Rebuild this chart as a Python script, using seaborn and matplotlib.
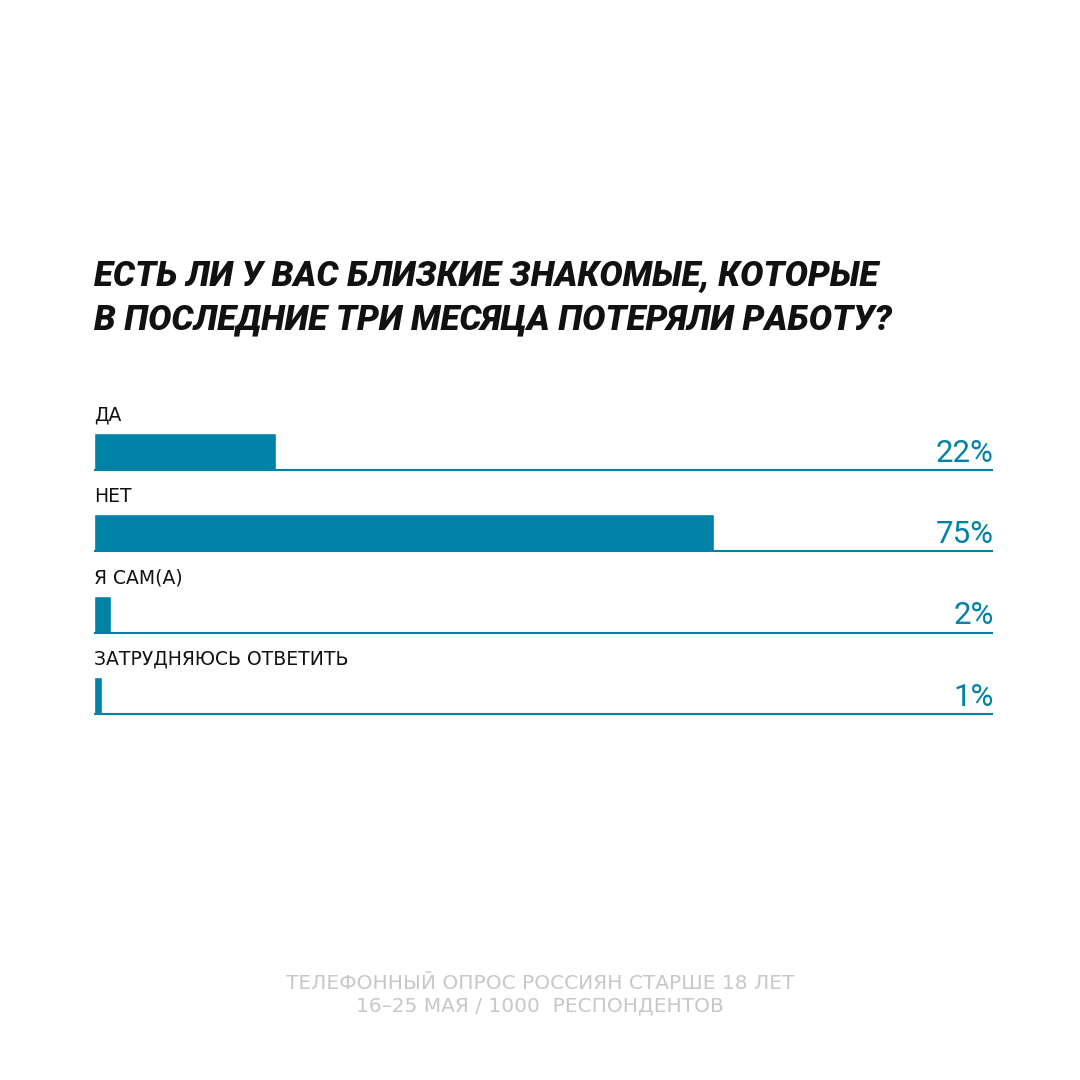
import matplotlib.pyplot as plt
import seaborn as sns
import pandas as pd

categories = ['ДА', 'НЕТ', 'Я САМ(А)', 'ЗАТРУДНЯЮСЬ ОТВЕТИТЬ']
values = [22, 75, 2, 1]
title = 'ЕСТЬ ЛИ У ВАС БЛИЗКИЕ ЗНАКОМЫЕ, КОТОРЫЕ\nВ ПОСЛЕДНИЕ ТРИ МЕСЯЦА ПОТЕРЯЛИ РАБОТУ?'
footer = 'ТЕЛЕФОННЫЙ ОПРОС РОССИЯН СТАРШЕ 18 ЛЕТ\n16–25 МАЯ / 1000  РЕСПОНДЕНТОВ'

color = '#0081a6'
xmax = 108.8
bh = 0.457

sns.set_theme(style='white')
plt.rcParams['font.family'] = ['Roboto', 'DejaVu Sans']

df = pd.DataFrame({'cat': categories, 'val': values})
fig = plt.figure(figsize=(10.8, 10.8), dpi=100)
ax = fig.add_axes([94/1080, 0.3185, 899/1080, 0.3009])
sns.barplot(data=df, y='cat', x='val', orient='h', color=color, width=bh,
            saturation=1, ax=ax)
ax.set_xlim(0, xmax)
ax.set_ylim(3.5, -0.5)
ax.axis('off')

for i, (c, v) in enumerate(zip(categories, values)):
    ax.hlines(i + bh/2, 0, xmax, color=color, linewidth=1.5)
    ax.text(0, i - bh/2 - 0.22, c, fontsize=13.5, fontweight='medium',
            family='DejaVu Sans', va='center', ha='left', color='#111111')
    ax.text(xmax + 0.1, i + bh/2 - 0.03, f'{v}%', fontsize=22.5, va='bottom',
            ha='right', color=color)

fig.text(94/1080, 1 - 298/1080, title, fontsize=25, fontweight='black',
         fontstyle='italic', va='center', ha='left', linespacing=1.4,
         color='#111111')
fig.text(0.5, 1 - 995/1080, footer, fontsize=14.5, color='#c8c8c8',
         family='DejaVu Sans', ha='center', va='center', linespacing=1.25)

fig.savefig('out.png', dpi=100, facecolor='white')
